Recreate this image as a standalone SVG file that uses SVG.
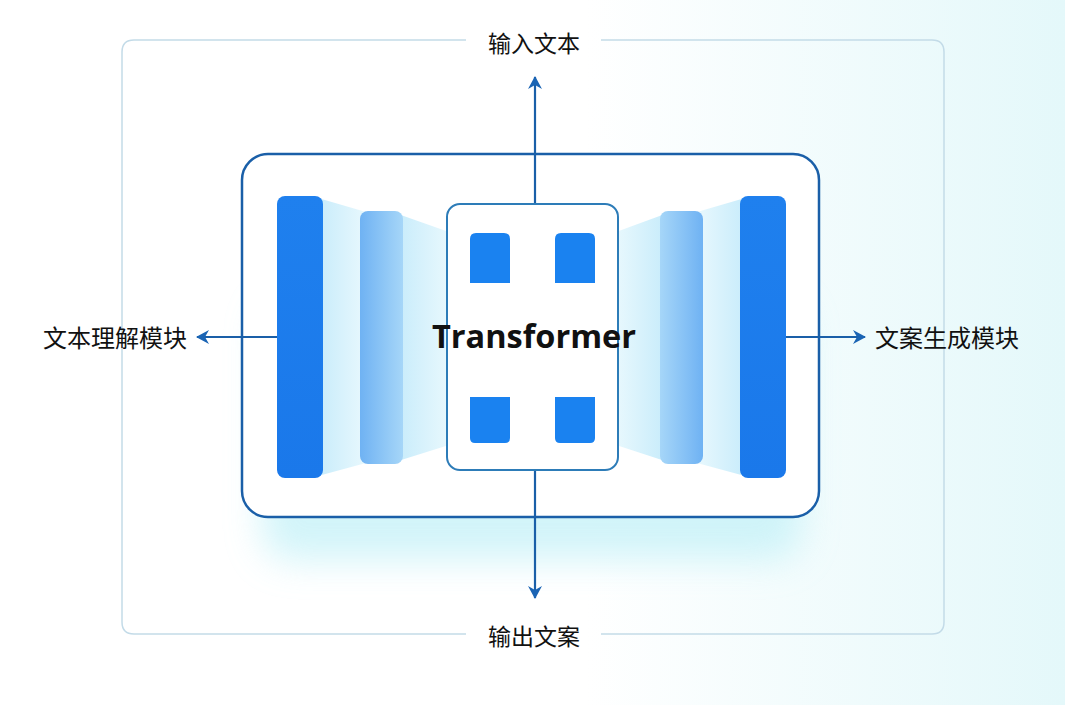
<svg xmlns="http://www.w3.org/2000/svg" width="1065" height="705" viewBox="0 0 1065 705">
<defs>
<linearGradient id="bg" x1="0" y1="0" x2="1" y2="0">
<stop offset="0" stop-color="#ffffff"/><stop offset="0.55" stop-color="#ffffff"/><stop offset="1" stop-color="#e4f8fa"/>
</linearGradient>
<linearGradient id="barDark" x1="0" y1="0" x2="0" y2="1">
<stop offset="0" stop-color="#1f80ee"/><stop offset="1" stop-color="#1a78ea"/>
</linearGradient>
<linearGradient id="barLightL" x1="0" y1="0" x2="1" y2="0">
<stop offset="0" stop-color="#6fb2f3"/><stop offset="1" stop-color="#a6d6f8"/>
</linearGradient>
<linearGradient id="barLightR" x1="1" y1="0" x2="0" y2="0">
<stop offset="0" stop-color="#6fb2f3"/><stop offset="1" stop-color="#a6d6f8"/>
</linearGradient>
<linearGradient id="beamL" x1="0" y1="0" x2="1" y2="0">
<stop offset="0" stop-color="#c8ecfb"/><stop offset="1" stop-color="#e8f8fd"/>
</linearGradient>
<linearGradient id="beamR" x1="1" y1="0" x2="0" y2="0">
<stop offset="0" stop-color="#c8ecfb"/><stop offset="1" stop-color="#e8f8fd"/>
</linearGradient>
<filter id="glow" x="-20%" y="-20%" width="140%" height="160%">
<feGaussianBlur stdDeviation="18"/>
</filter>
<marker id="arr" viewBox="0 0 14 14" refX="12" refY="7" markerWidth="14" markerHeight="14" markerUnits="userSpaceOnUse" orient="auto">
<path d="M0,0 L13,7 L0,14 L4,7 Z" fill="#1a64b4"/>
</marker>
<style>
.lbl{font-family:"Noto Sans CJK SC","Noto Sans",sans-serif;font-size:23px;fill:#111;text-anchor:middle;dominant-baseline:central}
.side{font-size:24px}
.conn{stroke:#1a5fa8;stroke-width:2.2;fill:none}
.frame{stroke:#c3dbe8;stroke-width:1.5;fill:none}
.sq{fill:#1a82f0}
</style>
</defs>
<rect width="1065" height="705" fill="url(#bg)"/>
<g id="frame">
<path class="frame" d="M466,40 H134 Q122,40 122,52 V622 Q122,634 134,634 H466"/>
<path class="frame" d="M601,40 H932 Q944,40 944,52 V622 Q944,634 932,634 H601"/>
</g>
<rect x="262" y="300" width="540" height="260" rx="30" fill="#bff0f7" opacity="0.7" filter="url(#glow)"/>
<g id="main-box">
<rect x="242" y="154" width="577" height="363" rx="26" fill="#ffffff" stroke="#1a5fa8" stroke-width="2.5"/>
</g>
<g id="connectors">
<line class="conn" x1="535" y1="204" x2="535" y2="77" marker-end="url(#arr)"/>
<line class="conn" x1="535" y1="470" x2="535" y2="598" marker-end="url(#arr)"/>
<line class="conn" x1="277" y1="337" x2="197" y2="337" marker-end="url(#arr)"/>
<line class="conn" x1="785" y1="337" x2="865" y2="337" marker-end="url(#arr)"/>
</g>
<g id="encoder">
<polygon points="318,198 366,212 366,463 318,476" fill="url(#beamL)"/>
<polygon points="398,214 449,232 449,445 398,461" fill="url(#beamL)"/>
<rect x="277" y="196" width="46" height="282" rx="8" fill="url(#barDark)"/>
<rect x="360" y="211" width="43" height="253" rx="8" fill="url(#barLightL)"/>
</g>
<g id="decoder">
<polygon points="745,198 697,212 697,463 745,476" fill="url(#beamR)"/>
<polygon points="665,214 616,232 616,445 665,461" fill="url(#beamR)"/>
<rect x="740" y="196" width="46" height="282" rx="8" fill="url(#barDark)"/>
<rect x="660" y="211" width="43" height="253" rx="8" fill="url(#barLightR)"/>
</g>
<g id="transformer">
<rect x="447" y="204" width="171" height="266" rx="13" fill="#ffffff" stroke="#2d7cb8" stroke-width="2"/>
<path class="sq" d="M470,283 V239 Q470,233 476,233 H504 Q510,233 510,239 V283 Z"/>
<path class="sq" d="M555,283 V239 Q555,233 561,233 H589 Q595,233 595,239 V283 Z"/>
<path class="sq" d="M470,397 H510 V438 Q510,443 505,443 H475 Q470,443 470,438 Z"/>
<path class="sq" d="M555,397 H595 V438 Q595,443 590,443 H560 Q555,443 555,438 Z"/>
<text x="534" y="335" font-family="'Open Sans','Noto Sans',sans-serif" font-weight="bold" font-size="32.5" fill="#111" text-anchor="middle" dominant-baseline="central">Transformer</text>
</g>
<g id="label-input"><text class="lbl" x="534" y="42">输入文本</text></g>
<g id="label-output"><text class="lbl" x="534" y="635">输出文案</text></g>
<g id="label-understand"><text class="lbl side" x="115" y="336">文本理解模块</text></g>
<g id="label-generate"><text class="lbl side" x="947" y="336">文案生成模块</text></g>
</svg>
